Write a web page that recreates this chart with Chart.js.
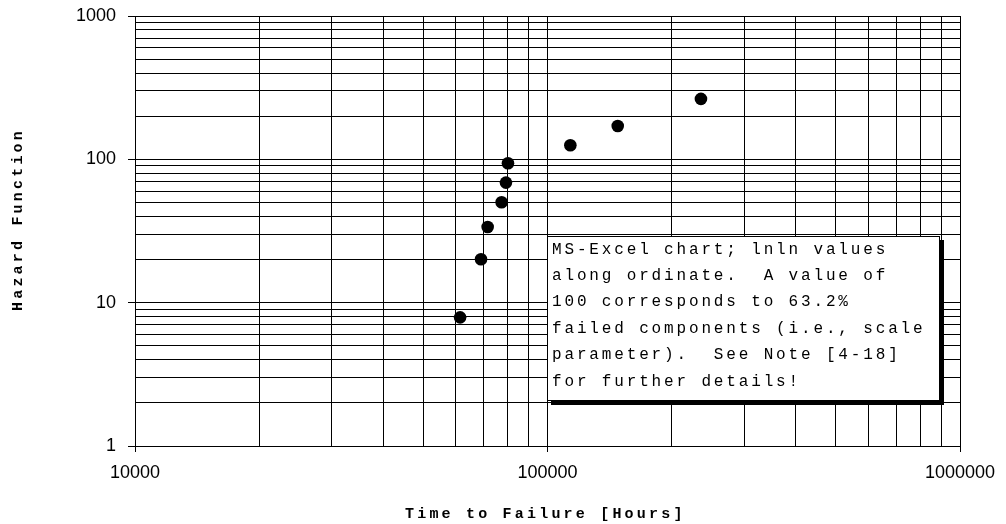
<!DOCTYPE html>
<html>
<head>
<meta charset="utf-8">
<script src="https://cdn.jsdelivr.net/npm/chart.js@4/dist/chart.umd.min.js"></script>
<style>
  html, body { margin: 0; padding: 0; background: #fff; }
  #wrap { width: 1006px; height: 524px; position: relative; }
</style>
</head>
<body>
<div id="wrap"><canvas id="c"></canvas></div>
<script>
// Observed failures: time to failure (hours) and cumulative hazard value
const timeToFailure = [61400, 69000, 71600, 77400, 79300, 80200, 113600, 148000, 235500];
const hazardValues  = [7.9, 20.1, 33.7, 50.2, 68.8, 93.9, 125.4, 171, 264];

// Grid / tick positions on both log axes
const xTickValues = [10000, 20000, 30000, 40000, 50000, 60000, 70000, 80000, 90000,
                     100000, 200000, 300000, 400000, 500000, 600000, 700000, 800000, 900000,
                     1000000];
const yTickValues = [1, 2, 3, 4, 5, 6, 7, 8, 9,
                     10, 20, 30, 40, 50, 60, 70, 80, 90,
                     100, 200, 300, 400, 500, 600, 700, 800, 900,
                     1000];
// Only decades carry a label
const xTickLabels = [10000, 100000, 1000000];
const yTickLabels = [1, 10, 100, 1000];

const xTitle = 'Time to Failure [Hours]';
const yTitle = 'Hazard Function';
const noteLines = [
  'MS-Excel chart; lnln values',
  'along ordinate.  A value of',
  '100 corresponds to 63.2%',
  'failed components (i.e., scale',
  'parameter).  See Note [4-18]',
  'for further details!'
];

const isLabelled = (list, v) => list.some(t => Math.abs(t - v) / t < 1e-9);

// Draw a string one glyph at a time with a fixed advance (wide typewriter look)
function spacedText(ctx, str, x, y, advance) {
  for (let i = 0; i < str.length; i++) {
    ctx.fillText(str[i], x + i * advance, y);
  }
}

const decorations = {
  id: 'decorations',
  afterDatasetsDraw(chart) {
    const ctx = chart.ctx;
    const a = chart.chartArea;
    const bx = a.left + 412, by = a.top + 220, bw = 393, bh = 165;
    ctx.save();
    // drop shadow
    ctx.fillStyle = '#000';
    ctx.fillRect(bx + 4, by + 4, bw, bh);
    // box
    ctx.fillStyle = '#fff';
    ctx.fillRect(bx, by, bw, bh);
    ctx.strokeStyle = '#000';
    ctx.lineWidth = 1;
    ctx.strokeRect(bx + 0.5, by + 0.5, bw - 1, bh - 1);
    // note text
    ctx.fillStyle = '#000';
    ctx.font = '16px "Liberation Mono", "Courier New", monospace';
    ctx.textBaseline = 'alphabetic';
    ctx.textAlign = 'left';
    noteLines.forEach((line, i) => {
      spacedText(ctx, line, bx + 5, by + 17.5 + i * 26.4, 12.45);
    });
    ctx.restore();
  },
  afterDraw(chart) {
    const ctx = chart.ctx;
    const adv = 12.2;
    ctx.save();
    ctx.fillStyle = '#000';
    ctx.font = 'bold 15px "Liberation Mono", "Courier New", monospace';
    ctx.textBaseline = 'alphabetic';
    ctx.textAlign = 'left';
    // x axis title
    spacedText(ctx, xTitle, 405, 518, adv);
    // y axis title, rotated
    ctx.translate(22, 311);
    ctx.rotate(-Math.PI / 2);
    spacedText(ctx, yTitle, 0, 0, adv);
    ctx.restore();
  }
};

const tickFont = { family: '"Liberation Sans", Arial, sans-serif', size: 18 };

new Chart(document.getElementById('c'), {
  type: 'scatter',
  data: {
    datasets: [{
      data: timeToFailure.map((t, i) => ({ x: t, y: hazardValues[i] })),
      backgroundColor: '#000',
      borderColor: '#000',
      borderWidth: 0,
      pointRadius: 6.3,
      pointHoverRadius: 6.3,
      pointStyle: 'circle',
      showLine: false
    }]
  },
  options: {
    responsive: true,
    maintainAspectRatio: false,
    devicePixelRatio: 1,
    animation: false,
    events: [],
    layout: { padding: { top: 16, right: 46, bottom: 0, left: 0 } },
    plugins: { legend: { display: false }, tooltip: { enabled: false }, title: { display: false } },
    scales: {
      x: {
        type: 'logarithmic',
        min: 10000,
        max: 1000000,
        afterBuildTicks: s => { s.ticks = xTickValues.map(v => ({ value: v, major: false })); },
        afterFit: s => { s.height = 78; s.paddingLeft = 0; s.paddingRight = 0; },
        grid: {
          color: '#000',
          lineWidth: 1,
          tickLength: 6,
          tickColor: c => (c.tick && isLabelled(xTickLabels, c.tick.value)) ? '#000' : 'rgba(0,0,0,0)'
        },
        border: { color: '#000', width: 1 },
        ticks: {
          autoSkip: false, maxRotation: 0, minRotation: 0, padding: 10,
          color: '#000', font: tickFont,
          callback: v => isLabelled(xTickLabels, v) ? String(v) : ''
        }
      },
      y: {
        type: 'logarithmic',
        min: 1,
        max: 1000,
        afterBuildTicks: s => { s.ticks = yTickValues.map(v => ({ value: v, major: false })); },
        afterFit: s => { s.width = 135; s.paddingTop = 0; s.paddingBottom = 0; },
        grid: {
          color: '#000',
          lineWidth: 1,
          tickLength: 7,
          tickColor: c => (c.tick && isLabelled(yTickLabels, c.tick.value)) ? '#000' : 'rgba(0,0,0,0)'
        },
        border: { color: '#000', width: 1 },
        ticks: {
          autoSkip: false, padding: 12,
          color: '#000', font: tickFont,
          callback: v => isLabelled(yTickLabels, v) ? String(v) : ''
        }
      }
    }
  },
  plugins: [decorations]
});
</script>
</body>
</html>
